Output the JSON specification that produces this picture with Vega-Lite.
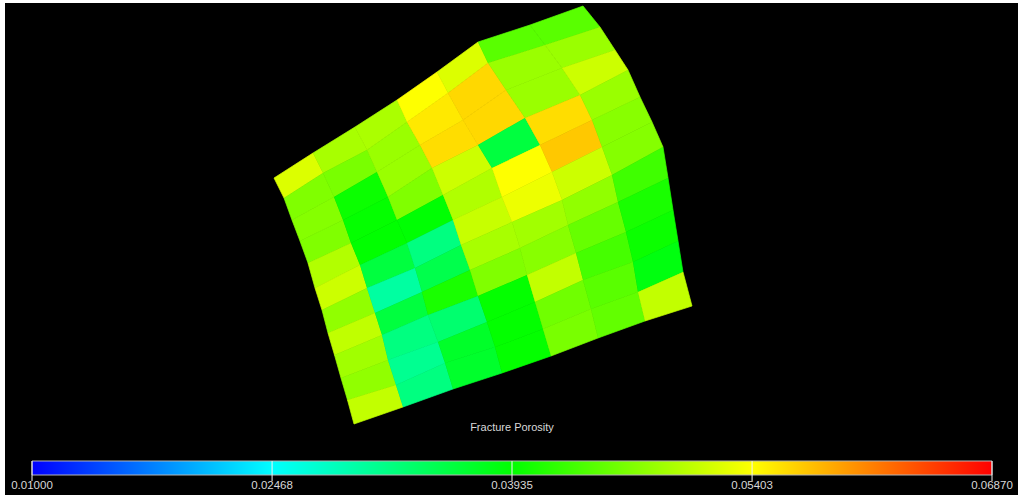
{"$schema":"https://vega.github.io/schema/vega-lite/v6.json","width":1013,"height":492,"autosize":{"type":"none"},"padding":{"left":5,"top":3,"right":1,"bottom":0},"background":"#ffffff","view":{"fill":"#000000","stroke":null},
"datasets":{"cells":[
{"type":"Polygon","porosity":0.052,"coordinates":[[[274,178],[313,153],[323,173],[284,198],[274,178]]]},
{"type":"Polygon","porosity":0.0467,"coordinates":[[[284,198],[323,173],[334,197],[292,220],[284,198]]]},
{"type":"Polygon","porosity":0.047,"coordinates":[[[292,220],[334,197],[343,220],[300,241],[292,220]]]},
{"type":"Polygon","porosity":0.0467,"coordinates":[[[300,241],[343,220],[351,243],[308,263],[300,241]]]},
{"type":"Polygon","porosity":0.0496,"coordinates":[[[308,263],[351,243],[360,265],[315,288],[308,263]]]},
{"type":"Polygon","porosity":0.0511,"coordinates":[[[315,288],[360,265],[367,288],[322,310],[315,288]]]},
{"type":"Polygon","porosity":0.0477,"coordinates":[[[322,310],[367,288],[375,313],[328,333],[322,310]]]},
{"type":"Polygon","porosity":0.0504,"coordinates":[[[328,333],[375,313],[382,335],[334.5,355],[328,333]]]},
{"type":"Polygon","porosity":0.0486,"coordinates":[[[334.5,355],[382,335],[388,360],[341,378],[334.5,355]]]},
{"type":"Polygon","porosity":0.0477,"coordinates":[[[341,378],[388,360],[396,385],[347.5,400],[341,378]]]},
{"type":"Polygon","porosity":0.0505,"coordinates":[[[347.5,400],[396,385],[403,407],[354,424],[347.5,400]]]},
{"type":"Polygon","porosity":0.049,"coordinates":[[[313,153],[355,127],[367,150],[323,173],[313,153]]]},
{"type":"Polygon","porosity":0.0463,"coordinates":[[[323,173],[367,150],[377,172],[334,197],[323,173]]]},
{"type":"Polygon","porosity":0.04,"coordinates":[[[334,197],[377,172],[388,197],[343,220],[334,197]]]},
{"type":"Polygon","porosity":0.0396,"coordinates":[[[343,220],[388,197],[397,220],[351,243],[343,220]]]},
{"type":"Polygon","porosity":0.0394,"coordinates":[[[351,243],[397,220],[407,243],[360,265],[351,243]]]},
{"type":"Polygon","porosity":0.0357,"coordinates":[[[360,265],[407,243],[415,268],[367,288],[360,265]]]},
{"type":"Polygon","porosity":0.0301,"coordinates":[[[367,288],[415,268],[422,292],[375,313],[367,288]]]},
{"type":"Polygon","porosity":0.0357,"coordinates":[[[375,313],[422,292],[428,315],[382,335],[375,313]]]},
{"type":"Polygon","porosity":0.032,"coordinates":[[[382,335],[428,315],[438,342],[388,360],[382,335]]]},
{"type":"Polygon","porosity":0.031,"coordinates":[[[388,360],[438,342],[445,363],[396,385],[388,360]]]},
{"type":"Polygon","porosity":0.032,"coordinates":[[[396,385],[445,363],[453,389],[403,407],[396,385]]]},
{"type":"Polygon","porosity":0.0492,"coordinates":[[[355,127],[397,100],[407,122],[367,150],[355,127]]]},
{"type":"Polygon","porosity":0.0482,"coordinates":[[[367,150],[407,122],[420,145],[377,172],[367,150]]]},
{"type":"Polygon","porosity":0.0482,"coordinates":[[[377,172],[420,145],[432,168],[388,197],[377,172]]]},
{"type":"Polygon","porosity":0.0467,"coordinates":[[[388,197],[432,168],[443,195],[397,220],[388,197]]]},
{"type":"Polygon","porosity":0.0392,"coordinates":[[[397,220],[443,195],[453,220],[407,243],[397,220]]]},
{"type":"Polygon","porosity":0.032,"coordinates":[[[407,243],[453,220],[461,245],[415,268],[407,243]]]},
{"type":"Polygon","porosity":0.035,"coordinates":[[[415,268],[461,245],[470,270],[422,292],[415,268]]]},
{"type":"Polygon","porosity":0.0408,"coordinates":[[[422,292],[470,270],[478,296],[428,315],[422,292]]]},
{"type":"Polygon","porosity":0.033,"coordinates":[[[428,315],[478,296],[487,322],[438,342],[428,315]]]},
{"type":"Polygon","porosity":0.037,"coordinates":[[[438,342],[487,322],[495,347],[445,363],[438,342]]]},
{"type":"Polygon","porosity":0.0368,"coordinates":[[[445,363],[495,347],[502,373],[453,389],[445,363]]]},
{"type":"Polygon","porosity":0.054,"coordinates":[[[397,100],[437,72],[448,93],[407,122],[397,100]]]},
{"type":"Polygon","porosity":0.0553,"coordinates":[[[407,122],[448,93],[463,120],[420,145],[407,122]]]},
{"type":"Polygon","porosity":0.056,"coordinates":[[[420,145],[463,120],[478,145],[432,168],[420,145]]]},
{"type":"Polygon","porosity":0.0511,"coordinates":[[[432,168],[478,145],[492,168],[443,195],[432,168]]]},
{"type":"Polygon","porosity":0.0495,"coordinates":[[[443,195],[492,168],[502,197],[453,220],[443,195]]]},
{"type":"Polygon","porosity":0.0508,"coordinates":[[[453,220],[502,197],[512,222],[461,245],[453,220]]]},
{"type":"Polygon","porosity":0.049,"coordinates":[[[461,245],[512,222],[520,248],[470,270],[461,245]]]},
{"type":"Polygon","porosity":0.0467,"coordinates":[[[470,270],[520,248],[527,275],[478,296],[470,270]]]},
{"type":"Polygon","porosity":0.0396,"coordinates":[[[478,296],[527,275],[535,302],[487,322],[478,296]]]},
{"type":"Polygon","porosity":0.0395,"coordinates":[[[487,322],[535,302],[543,329],[495,347],[487,322]]]},
{"type":"Polygon","porosity":0.0396,"coordinates":[[[495,347],[543,329],[551,356],[502,373],[495,347]]]},
{"type":"Polygon","porosity":0.052,"coordinates":[[[437,72],[478,42],[488,63],[448,93],[437,72]]]},
{"type":"Polygon","porosity":0.0563,"coordinates":[[[448,93],[488,63],[506,90],[463,120],[448,93]]]},
{"type":"Polygon","porosity":0.0563,"coordinates":[[[463,120],[506,90],[525,118],[478,145],[463,120]]]},
{"type":"Polygon","porosity":0.0357,"coordinates":[[[478,145],[525,118],[540,145],[492,168],[478,145]]]},
{"type":"Polygon","porosity":0.054,"coordinates":[[[492,168],[540,145],[552,172],[502,197],[492,168]]]},
{"type":"Polygon","porosity":0.053,"coordinates":[[[502,197],[552,172],[562,200],[512,222],[502,197]]]},
{"type":"Polygon","porosity":0.0487,"coordinates":[[[512,222],[562,200],[568,225],[520,248],[512,222]]]},
{"type":"Polygon","porosity":0.0472,"coordinates":[[[520,248],[568,225],[576,253],[527,275],[520,248]]]},
{"type":"Polygon","porosity":0.0505,"coordinates":[[[527,275],[576,253],[583,280],[535,302],[527,275]]]},
{"type":"Polygon","porosity":0.0458,"coordinates":[[[535,302],[583,280],[591,309],[543,329],[535,302]]]},
{"type":"Polygon","porosity":0.0463,"coordinates":[[[543,329],[591,309],[598,338],[551,356],[543,329]]]},
{"type":"Polygon","porosity":0.0445,"coordinates":[[[478,42],[530,25],[545,45],[488,63],[478,42]]]},
{"type":"Polygon","porosity":0.0482,"coordinates":[[[488,63],[545,45],[562,68],[506,90],[488,63]]]},
{"type":"Polygon","porosity":0.0482,"coordinates":[[[506,90],[562,68],[580,95],[525,118],[506,90]]]},
{"type":"Polygon","porosity":0.056,"coordinates":[[[525,118],[580,95],[592,120],[540,145],[525,118]]]},
{"type":"Polygon","porosity":0.0572,"coordinates":[[[540,145],[592,120],[602,147],[552,172],[540,145]]]},
{"type":"Polygon","porosity":0.0511,"coordinates":[[[552,172],[602,147],[612,175],[562,200],[552,172]]]},
{"type":"Polygon","porosity":0.0477,"coordinates":[[[562,200],[612,175],[618,202],[568,225],[562,200]]]},
{"type":"Polygon","porosity":0.0452,"coordinates":[[[568,225],[618,202],[626,232],[576,253],[568,225]]]},
{"type":"Polygon","porosity":0.0433,"coordinates":[[[576,253],[626,232],[633,262],[583,280],[576,253]]]},
{"type":"Polygon","porosity":0.0445,"coordinates":[[[583,280],[633,262],[638,292],[591,309],[583,280]]]},
{"type":"Polygon","porosity":0.045,"coordinates":[[[591,309],[638,292],[645,321],[598,338],[591,309]]]},
{"type":"Polygon","porosity":0.0445,"coordinates":[[[530,25],[583,6],[600,27],[545,45],[530,25]]]},
{"type":"Polygon","porosity":0.0482,"coordinates":[[[545,45],[600,27],[615,50],[562,68],[545,45]]]},
{"type":"Polygon","porosity":0.0511,"coordinates":[[[562,68],[615,50],[628,70],[580,95],[562,68]]]},
{"type":"Polygon","porosity":0.0482,"coordinates":[[[580,95],[628,70],[640,97],[592,120],[580,95]]]},
{"type":"Polygon","porosity":0.0472,"coordinates":[[[592,120],[640,97],[652,122],[602,147],[592,120]]]},
{"type":"Polygon","porosity":0.047,"coordinates":[[[602,147],[652,122],[663,147],[612,175],[602,147]]]},
{"type":"Polygon","porosity":0.043,"coordinates":[[[612,175],[663,147],[668,178],[618,202],[612,175]]]},
{"type":"Polygon","porosity":0.0408,"coordinates":[[[618,202],[668,178],[673,210],[626,232],[618,202]]]},
{"type":"Polygon","porosity":0.04,"coordinates":[[[626,232],[673,210],[678,241],[633,262],[626,232]]]},
{"type":"Polygon","porosity":0.0385,"coordinates":[[[633,262],[678,241],[683,272],[638,292],[633,262]]]},
{"type":"Polygon","porosity":0.0505,"coordinates":[[[638,292],[683,272],[692,306],[645,321],[638,292]]]}
],"ticks":[{"porosity":0.01},{"porosity":0.02468},{"porosity":0.03935},{"porosity":0.05403},{"porosity":0.0687}],"bar":[{"low":0.01,"high":0.0687}],"caption":[{"porosity":0.03935,"label":"Fracture Porosity"}]},
"layer":[
{"data":{"name":"cells"},
"projection":{"type":"identity","scale":1,"translate":[-5,-3]},
"mark":{"type":"geoshape","strokeWidth":0.7,"fill":null},
"encoding":{
"stroke":{"field":"porosity","type":"quantitative","scale":{"domain":[0.01,0.02468,0.03935,0.05403,0.0687],"range":["#0000ff","#00ffff","#00ff00","#ffff00","#ff0000"],"interpolate":"rgb"},"legend":null}
}},
{"data":{"name":"cells"},
"projection":{"type":"identity","scale":1,"translate":[-5,-3]},
"mark":{"type":"geoshape","stroke":null},
"encoding":{
"fill":{"field":"porosity","type":"quantitative","scale":{"domain":[0.01,0.02468,0.03935,0.05403,0.0687],"range":["#0000ff","#00ffff","#00ff00","#ffff00","#ff0000"],"interpolate":"rgb"},"legend":null}
}},
{"data":{"name":"bar"},
"mark":{"type":"rect","stroke":"#b4b4b4","strokeWidth":1,"fill":{"gradient":"linear","x1":0,"y1":0,"x2":1,"y2":0,"stops":[{"offset":0,"color":"#0000ff"},{"offset":0.25,"color":"#00ffff"},{"offset":0.5,"color":"#00ff00"},{"offset":0.75,"color":"#ffff00"},{"offset":1,"color":"#ff0000"}]}},
"encoding":{
"x":{"field":"low","type":"quantitative","axis":null,"scale":{"domain":[0.01,0.0687],"range":[27,987]}},
"x2":{"field":"high"},
"y":{"datum":0.3,"type":"quantitative","axis":null,"scale":{"domain":[0,1],"range":[478,458]}},
"y2":{"datum":1}
}},
{"data":{"name":"ticks"},
"mark":{"type":"rule","color":"#f0f0f0","strokeWidth":1},
"encoding":{
"x":{"field":"porosity","type":"quantitative","axis":null,"scale":{"domain":[0.01,0.0687],"range":[27,987]}},
"y":{"datum":0,"type":"quantitative","axis":null,"scale":{"domain":[0,1],"range":[478,458]}},
"y2":{"datum":1}
}},
{"data":{"name":"ticks"},
"mark":{"type":"text","color":"#d8d8d8","font":"Liberation Sans","fontSize":11.5,"align":"center","baseline":"middle"},
"encoding":{
"x":{"field":"porosity","type":"quantitative","axis":null,"scale":{"domain":[0.01,0.0687],"range":[27,987]}},
"y":{"datum":-0.25,"type":"quantitative","axis":null,"scale":{"domain":[0,1],"range":[478,458]}},
"text":{"field":"porosity","type":"quantitative","format":".5f"}
}},
{"data":{"name":"caption"},
"mark":{"type":"text","color":"#d8d8d8","font":"Liberation Sans","fontSize":11,"align":"center","baseline":"middle"},
"encoding":{
"x":{"field":"porosity","type":"quantitative","axis":null,"scale":{"domain":[0.01,0.0687],"range":[27,987]}},
"y":{"datum":2.65,"type":"quantitative","axis":null,"scale":{"domain":[0,1],"range":[478,458]}},
"text":{"field":"label","type":"nominal"}
}}
]
}
